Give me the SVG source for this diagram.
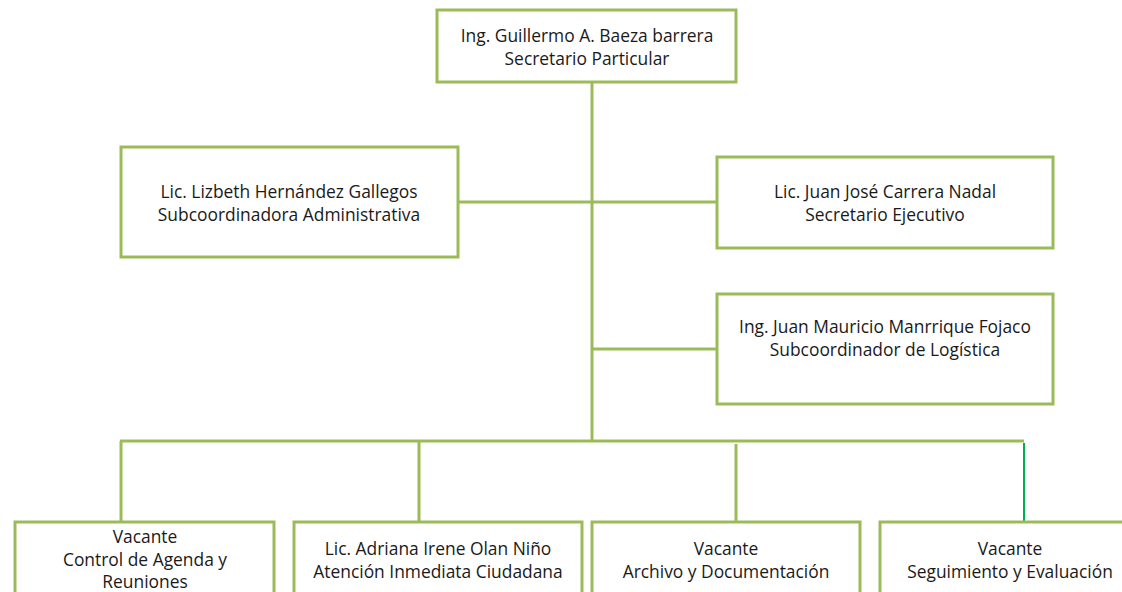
<svg xmlns="http://www.w3.org/2000/svg" width="1122" height="592" viewBox="0 0 1122 592">
<style>
.box{fill:#fff;stroke:#9BBB59;stroke-width:3}
.ln{stroke:#9BBB59;stroke-width:3;fill:none}
.gl{stroke:#00B050;stroke-width:2;fill:none}
text{font-family:"Open Sans","Liberation Sans",sans-serif;font-size:17.4px;fill:#1a1a1a;text-anchor:middle}
</style>
<rect width="1122" height="592" fill="#fff"/>
<g id="connectors">
<line class="ln" x1="592" y1="82" x2="592" y2="441"/>
<line class="ln" x1="458" y1="202" x2="717" y2="202"/>
<line class="ln" x1="592" y1="349" x2="717" y2="349"/>
<line class="ln" x1="120" y1="441" x2="1024" y2="441"/>
<line class="ln" x1="121" y1="441" x2="121" y2="522"/>
<line class="ln" x1="419" y1="441" x2="419" y2="522"/>
<line class="ln" x1="736" y1="444" x2="736" y2="524"/>
<line class="gl" x1="1024" y1="443" x2="1024" y2="526"/>
</g>
<g id="n1"><rect class="box" x="437" y="10" width="299" height="72"/>
<text x="587" y="42">Ing. Guillermo A. Baeza barrera</text><text x="587" y="65">Secretario Particular</text></g>
<g id="n2"><rect class="box" x="121" y="147" width="337" height="110"/>
<text x="289" y="198">Lic. Lizbeth Hernández Gallegos</text><text x="289" y="221">Subcoordinadora Administrativa</text></g>
<g id="n3"><rect class="box" x="717" y="157" width="336" height="91"/>
<text x="885" y="198">Lic. Juan José Carrera Nadal</text><text x="885" y="221">Secretario Ejecutivo</text></g>
<g id="n4"><rect class="box" x="717" y="294" width="336" height="110"/>
<text x="885" y="333">Ing. Juan Mauricio Manrrique Fojaco</text><text x="885" y="356">Subcoordinador de Logística</text></g>
<g id="n5"><rect class="box" x="15" y="522" width="259" height="100"/>
<text x="145" y="543">Vacante</text><text x="145" y="566">Control de Agenda y</text><text x="145" y="588">Reuniones</text></g>
<g id="n6"><rect class="box" x="294" y="522" width="288" height="100"/>
<text x="438" y="555">Lic. Adriana Irene Olan Niño</text><text x="438" y="578">Atención Inmediata Ciudadana</text></g>
<g id="n7"><rect class="box" x="592" y="522" width="268" height="100"/>
<text x="726" y="555">Vacante</text><text x="726" y="578">Archivo y Documentación</text></g>
<g id="n8"><rect class="box" x="880" y="522" width="270" height="100"/>
<text x="1010" y="555">Vacante</text><text x="1010" y="578">Seguimiento y Evaluación</text></g>
</svg>
